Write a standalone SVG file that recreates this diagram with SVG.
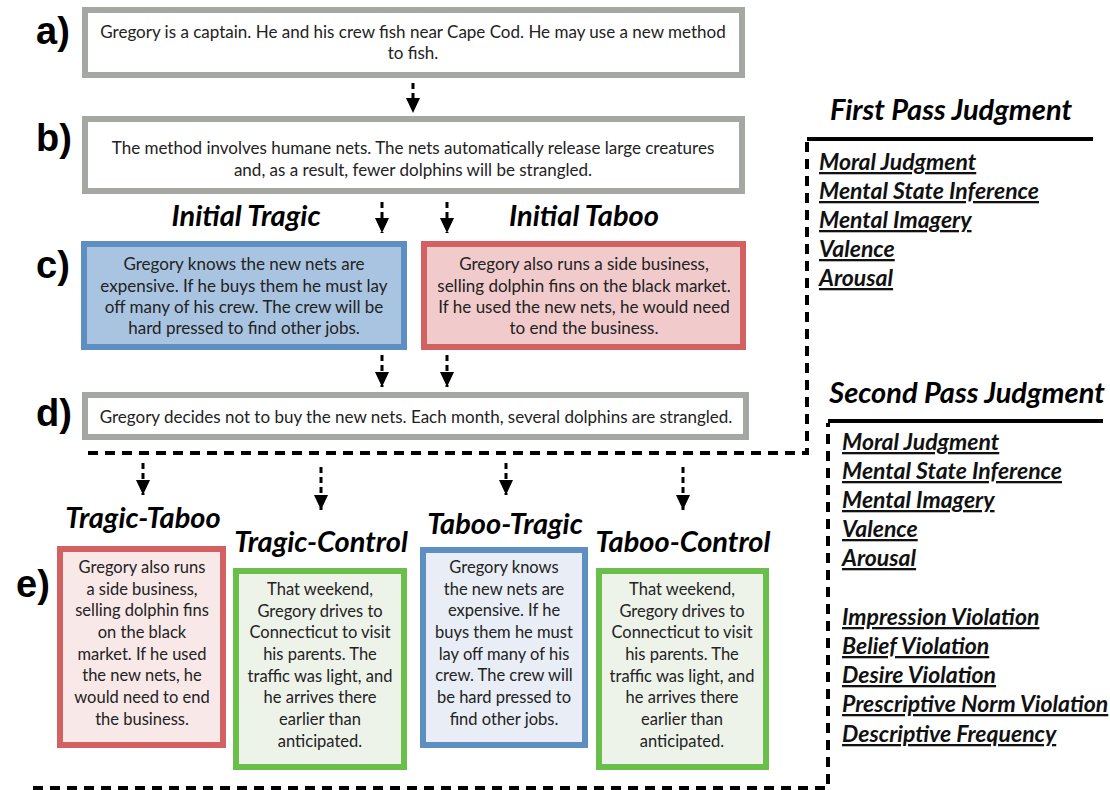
<svg xmlns="http://www.w3.org/2000/svg" width="1110" height="790" viewBox="0 0 1110 790">
<style>
.lbl{font-family:"Liberation Sans",Arial,sans-serif;font-weight:bold;font-size:38px;fill:#000}
.body{font-family:Lato,"Liberation Sans",sans-serif;font-size:17px;fill:#222;text-anchor:middle}
.ebody{font-family:Lato,"Liberation Sans",sans-serif;font-size:16.5px;fill:#222;text-anchor:middle}
.head{font-family:Lato,"Liberation Sans",sans-serif;font-weight:bold;font-style:italic;font-size:29px;fill:#000;text-anchor:middle}
.item{font-family:Lato,"Liberation Sans",sans-serif;font-weight:bold;font-style:italic;font-size:23px;fill:#111;text-decoration:underline}
.gray{fill:#fff;stroke:#a4a7a2;stroke-width:6}
.bluec{fill:#a9c4e0;stroke:#5d8fc3;stroke-width:6}
.redc{fill:#f1cbcb;stroke:#d36161;stroke-width:6}
.rede{fill:#f9e8e8;stroke:#d36161;stroke-width:6}
.bluee{fill:#e9eef6;stroke:#5d8fc3;stroke-width:6}
.greene{fill:#eef3ea;stroke:#6abf4a;stroke-width:6}
.arr{fill:none;stroke:#000;stroke-width:3;stroke-dasharray:6 4;marker-end:url(#ah)}
.bigdash{fill:none;stroke:#000;stroke-width:4;stroke-dasharray:10 7}
.solid{fill:none;stroke:#000;stroke-width:4}
</style>
<defs>
<marker id="ah" markerUnits="userSpaceOnUse" viewBox="0 0 15 14" refX="15" refY="7" markerWidth="15" markerHeight="14" orient="auto">
<path d="M0,0 L15,7 L0,14 z" fill="#000"/>
</marker>
</defs>
<rect width="1110" height="790" fill="#fff"/>

<g id="labels">
<text class="lbl" x="36" y="44">a)</text>
<text class="lbl" x="36" y="151">b)</text>
<text class="lbl" x="36" y="278">c)</text>
<text class="lbl" x="36" y="426">d)</text>
<text class="lbl" x="16" y="597">e)</text>
</g>

<g id="connectors">
<path class="arr" d="M413,83 V113"/>
<path class="arr" d="M382,202 V233"/>
<path class="arr" d="M447,202 V233"/>
<path class="arr" d="M382,355 V387"/>
<path class="arr" d="M447,355 V387"/>
<path class="arr" d="M143,463 V495"/>
<path class="arr" d="M321,467 V510"/>
<path class="arr" d="M506,463 V495"/>
<path class="arr" d="M683,467 V510"/>
<path class="bigdash" d="M88,453 H807 V141"/>
<path class="bigdash" d="M33,788 H828 V423"/>
</g>

<g id="node-a">
<rect class="gray" x="85" y="10" width="657" height="65"/>
<text class="body" x="413" y="38">Gregory is a captain. He and his crew fish near Cape Cod. He may use a new method</text>
<text class="body" x="413" y="59">to fish.</text>
</g>

<g id="node-b">
<rect class="gray" x="85" y="119" width="657" height="72"/>
<text class="body" x="413" y="154">The method involves humane nets. The nets automatically release large creatures</text>
<text class="body" x="413" y="176">and, as a result, fewer dolphins will be strangled.</text>
</g>

<g id="node-c-tragic">
<text class="head" x="246" y="226">Initial Tragic</text>
<rect class="bluec" x="84" y="244" width="320" height="103"/>
<text class="body" x="244" y="270">Gregory knows the new nets are</text>
<text class="body" x="244" y="292">expensive. If he buys them he must lay</text>
<text class="body" x="244" y="313">off many of his crew. The crew will be</text>
<text class="body" x="244" y="334">hard pressed to find other jobs.</text>
</g>

<g id="node-c-taboo">
<text class="head" x="584" y="226">Initial Taboo</text>
<rect class="redc" x="424" y="244" width="319" height="103"/>
<text class="body" x="584" y="270">Gregory also runs a side business,</text>
<text class="body" x="584" y="292">selling dolphin fins on the black market.</text>
<text class="body" x="584" y="313">If he used the new nets, he would need</text>
<text class="body" x="584" y="334">to end the business.</text>
</g>

<g id="node-d">
<rect class="gray" x="85" y="395" width="661" height="42"/>
<text class="body" x="416" y="423">Gregory decides not to buy the new nets. Each month, several dolphins are strangled.</text>
</g>

<g id="node-e-tragic-taboo">
<text class="head" x="143" y="528">Tragic-Taboo</text>
<rect class="rede" x="60" y="549" width="163" height="196"/>
<text class="ebody" x="142" y="573">Gregory also runs</text>
<text class="ebody" x="142" y="595">a side business,</text>
<text class="ebody" x="142" y="616">selling dolphin fins</text>
<text class="ebody" x="142" y="638">on the black</text>
<text class="ebody" x="142" y="660">market. If he used</text>
<text class="ebody" x="142" y="681">the new nets, he</text>
<text class="ebody" x="142" y="703">would need to end</text>
<text class="ebody" x="142" y="725">the business.</text>
</g>

<g id="node-e-tragic-control">
<text class="head" x="321" y="552">Tragic-Control</text>
<rect class="greene" x="236" y="571" width="168" height="196"/>
<text class="ebody" x="320" y="595">That weekend,</text>
<text class="ebody" x="320" y="617">Gregory drives to</text>
<text class="ebody" x="320" y="638">Connecticut to visit</text>
<text class="ebody" x="320" y="660">his parents. The</text>
<text class="ebody" x="320" y="682">traffic was light, and</text>
<text class="ebody" x="320" y="703">he arrives there</text>
<text class="ebody" x="320" y="725">earlier than</text>
<text class="ebody" x="320" y="747">anticipated.</text>
</g>

<g id="node-e-taboo-tragic">
<text class="head" x="505" y="534">Taboo-Tragic</text>
<rect class="bluee" x="423" y="550" width="162" height="195"/>
<text class="ebody" x="504" y="573">Gregory knows</text>
<text class="ebody" x="504" y="595">the new nets are</text>
<text class="ebody" x="504" y="616">expensive. If he</text>
<text class="ebody" x="504" y="638">buys them he must</text>
<text class="ebody" x="504" y="660">lay off many of his</text>
<text class="ebody" x="504" y="681">crew. The crew will</text>
<text class="ebody" x="504" y="703">be hard pressed to</text>
<text class="ebody" x="504" y="725">find other jobs.</text>
</g>

<g id="node-e-taboo-control">
<text class="head" x="683" y="552">Taboo-Control</text>
<rect class="greene" x="599" y="571" width="167" height="196"/>
<text class="ebody" x="682" y="595">That weekend,</text>
<text class="ebody" x="682" y="617">Gregory drives to</text>
<text class="ebody" x="682" y="638">Connecticut to visit</text>
<text class="ebody" x="682" y="660">his parents. The</text>
<text class="ebody" x="682" y="682">traffic was light, and</text>
<text class="ebody" x="682" y="703">he arrives there</text>
<text class="ebody" x="682" y="725">earlier than</text>
<text class="ebody" x="682" y="747">anticipated.</text>
</g>

<g id="first-pass">
<text class="head" x="951" y="120">First Pass Judgment</text>
<path class="solid" d="M807,139 H1093"/>
<text class="item" x="819" y="170">Moral Judgment</text>
<text class="item" x="819" y="199">Mental State Inference</text>
<text class="item" x="819" y="228">Mental Imagery</text>
<text class="item" x="819" y="257">Valence</text>
<text class="item" x="819" y="286">Arousal</text>
</g>

<g id="second-pass">
<text class="head" x="967" y="403">Second Pass Judgment</text>
<path class="solid" d="M828,421 H1103"/>
<text class="item" x="842" y="450">Moral Judgment</text>
<text class="item" x="842" y="479">Mental State Inference</text>
<text class="item" x="842" y="508">Mental Imagery</text>
<text class="item" x="842" y="537">Valence</text>
<text class="item" x="842" y="566">Arousal</text>
<text class="item" x="842" y="625">Impression Violation</text>
<text class="item" x="842" y="654">Belief Violation</text>
<text class="item" x="842" y="683">Desire Violation</text>
<text class="item" x="842" y="712">Prescriptive Norm Violation</text>
<text class="item" x="842" y="742">Descriptive Frequency</text>
</g>
</svg>
